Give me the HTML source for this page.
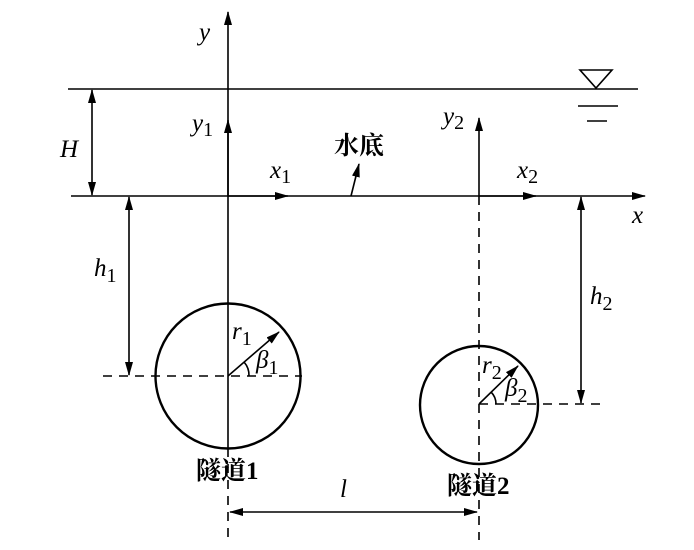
<!DOCTYPE html>
<html><head><meta charset="utf-8">
<style>
html,body{margin:0;padding:0;background:#fff;}
svg{display:block;}
.it{font-family:"Liberation Serif",serif;font-style:italic;font-size:25px;}
.sub{font-family:"Liberation Serif",serif;font-style:normal;font-size:20px;}
.cj{font-family:"Liberation Serif","Noto Serif CJK SC",serif;font-weight:bold;font-size:25px;}
</style></head>
<body>
<svg width="694" height="550" viewBox="0 0 694 550" xmlns="http://www.w3.org/2000/svg">
<defs>
<marker id="a" markerWidth="14" markerHeight="8" refX="13" refY="4" orient="auto" markerUnits="userSpaceOnUse">
<path d="M0,0 L14,4 L0,8 Z" fill="#000"/>
</marker>
</defs>
<g stroke="#000" stroke-width="1.6" fill="none">
<line x1="68" y1="89" x2="638" y2="89"/>
<line x1="71" y1="196" x2="645" y2="196" marker-end="url(#a)"/>
<line x1="228" y1="196" x2="288" y2="196" marker-end="url(#a)"/>
<line x1="479" y1="196" x2="536" y2="196" marker-end="url(#a)"/>
<line x1="228" y1="448" x2="228" y2="12" marker-end="url(#a)"/>
<line x1="228" y1="196" x2="228" y2="120" marker-end="url(#a)"/>
<line x1="228" y1="448" x2="228" y2="540" stroke-dasharray="9,7"/>
<line x1="479" y1="196" x2="479" y2="118" marker-end="url(#a)"/>
<line x1="479" y1="196" x2="479" y2="540" stroke-dasharray="9,7"/>
<line x1="92" y1="140" x2="92" y2="90" marker-end="url(#a)"/>
<line x1="92" y1="140" x2="92" y2="195" marker-end="url(#a)"/>
<line x1="129" y1="280" x2="129" y2="197" marker-end="url(#a)"/>
<line x1="129" y1="280" x2="129" y2="375" marker-end="url(#a)"/>
<line x1="103" y1="376" x2="302" y2="376" stroke-dasharray="9,7"/>
<line x1="581" y1="300" x2="581" y2="197" marker-end="url(#a)"/>
<line x1="581" y1="300" x2="581" y2="403" marker-end="url(#a)"/>
<line x1="479" y1="404" x2="605" y2="404" stroke-dasharray="9,7"/>
<line x1="350" y1="512" x2="230" y2="512" marker-end="url(#a)"/>
<line x1="350" y1="512" x2="477" y2="512" marker-end="url(#a)"/>
<circle cx="228" cy="376" r="72.5" stroke-width="2.4"/>
<circle cx="479" cy="405" r="59" stroke-width="2.4"/>
<line x1="228" y1="376" x2="279" y2="332" marker-end="url(#a)"/>
<line x1="479" y1="404" x2="518" y2="366" marker-end="url(#a)"/>
<path d="M244,362 A20,20 0 0 1 249,376"/>
<path d="M491,392 A17,17 0 0 1 496,404"/>
<line x1="351" y1="196" x2="359" y2="164" marker-end="url(#a)"/>
<path d="M580,70 L612,70 L596,88 Z"/>
<line x1="578" y1="106" x2="618" y2="106"/>
<line x1="587" y1="121" x2="607" y2="121"/>
</g>
<g fill="#000">
<text class="it" x="199" y="40">y</text>
<text class="it" x="192" y="131">y<tspan class="sub" dy="5">1</tspan></text>
<text class="it" x="443" y="124">y<tspan class="sub" dy="5">2</tspan></text>
<text class="it" x="60" y="157">H</text>
<text class="it" x="270" y="178">x<tspan class="sub" dy="5">1</tspan></text>
<text class="it" x="517" y="178">x<tspan class="sub" dy="5">2</tspan></text>
<text class="it" x="632" y="223">x</text>
<text class="it" x="94" y="276">h<tspan class="sub" dy="6">1</tspan></text>
<text class="it" x="590" y="304">h<tspan class="sub" dy="6">2</tspan></text>
<text class="it" x="232" y="339">r<tspan class="sub" dy="6">1</tspan></text>
<text class="it" x="256" y="368">β<tspan class="sub" dy="6">1</tspan></text>
<text class="it" x="482" y="373">r<tspan class="sub" dy="6">2</tspan></text>
<text class="it" x="505" y="396">β<tspan class="sub" dy="6">2</tspan></text>
<text class="it" x="340" y="497">l</text>
<text class="cj" x="334" y="154">水底</text>
<text class="cj" x="196" y="479">隧道1</text>
<text class="cj" x="447" y="494">隧道2</text>
</g>
</svg>
</body></html>
